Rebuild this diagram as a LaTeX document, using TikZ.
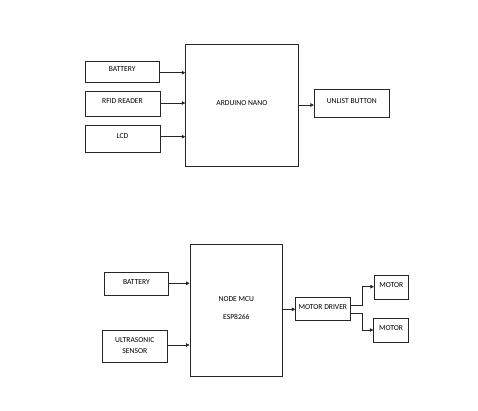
\documentclass[tikz,border=0pt]{standalone}
\usepackage{fontspec}
\setmainfont{Carlito}
\usetikzlibrary{arrows.meta}
\begin{document}
\begin{tikzpicture}[x=1pt,y=-1pt,
  blk/.style={draw=black!85,line width=0.8pt,inner sep=0pt},
  lbl/.style={font=\fontsize{7.6}{11.4}\selectfont,inner sep=0pt},
  arr/.style={draw=black!85,line width=0.7pt,-{Triangle[length=3.5pt,width=3.5pt]}}]
\useasboundingbox (0,0) rectangle (478,410);
% ---------- top diagram ----------
\node[blk,minimum width=74.5pt,minimum height=21.7pt] (bat1) at (122.2,71.85) {};
\node[lbl] (bat1t) at (122.2,69) {BATTERY};
\node[blk,minimum width=75pt,minimum height=25.7pt] (rfid) at (122.5,103.85) {};
\node[lbl] (rfidt) at (122.5,101) {RFID READER};
\node[blk,minimum width=75pt,minimum height=27.7pt] (lcd) at (122.5,138.85) {};
\node[lbl] (lcdt) at (122.5,136.5) {LCD};
\node[blk,minimum width=112.3pt,minimum height=121.6pt] (nano) at (241.85,105.5) {};
\node[lbl] (nanot) at (241.85,102.7) {ARDUINO NANO};
\node[blk,minimum width=75pt,minimum height=28.4pt] (unl) at (351.8,103.5) {};
\node[lbl] (unlt) at (351.8,101) {UNLIST BUTTON};
\draw[arr] (bat1.east |- 0,72.7) -- (nano.west |- 0,72.7);
\draw[arr] (rfid.east |- 0,103) -- (nano.west |- 0,103);
\draw[arr] (lcd.east |- 0,136.7) -- (nano.west |- 0,136.7);
\draw[arr] (nano.east |- 0,105) -- (unl.west |- 0,105);
% ---------- bottom diagram ----------
\node[blk,minimum width=64.4pt,minimum height=23pt] (bat2) at (136.5,284.2) {};
\node[lbl] (bat2t) at (136.5,281.7) {BATTERY};
\node[blk,minimum width=65pt,minimum height=31.6pt] (ult) at (134.8,346.5) {};
\node[lbl,align=center] (ultt) at (134.8,345.3) {ULTRASONIC\\SENSOR};
\node[blk,minimum width=92.7pt,minimum height=132.7pt] (mcu) at (236.35,310.35) {};
\node[lbl] (mcut1) at (236.35,299) {NODE MCU};
\node[lbl] (mcut2) at (236.35,316.7) {ESP8266};
\node[blk,minimum width=54.3pt,minimum height=23pt] (drv) at (322.85,309.2) {};
\node[lbl] (drvt) at (322.85,306.7) {MOTOR DRIVER};
\node[blk,minimum width=34pt,minimum height=23.3pt] (m1) at (391.3,287.35) {};
\node[lbl] (m1t) at (391.3,285.5) {MOTOR};
\node[blk,minimum width=34.6pt,minimum height=24.4pt] (m2) at (391,330.5) {};
\node[lbl] (m2t) at (391,328.5) {MOTOR};
\draw[arr] (bat2.east |- 0,283.3) -- (mcu.west |- 0,283.3);
\draw[arr] (ult.east |- 0,345) -- (mcu.west |- 0,345);
\draw[arr] (mcu.east |- 0,309.3) -- (drv.west |- 0,309.3);
\draw[arr] (drv.east |- 0,305) -| (362.7,286.7) -- (m1.west |- 0,286.7);
\draw[arr] (drv.east |- 0,313.3) -| (362.7,330) -- (m2.west |- 0,330);
\end{tikzpicture}
\end{document}
